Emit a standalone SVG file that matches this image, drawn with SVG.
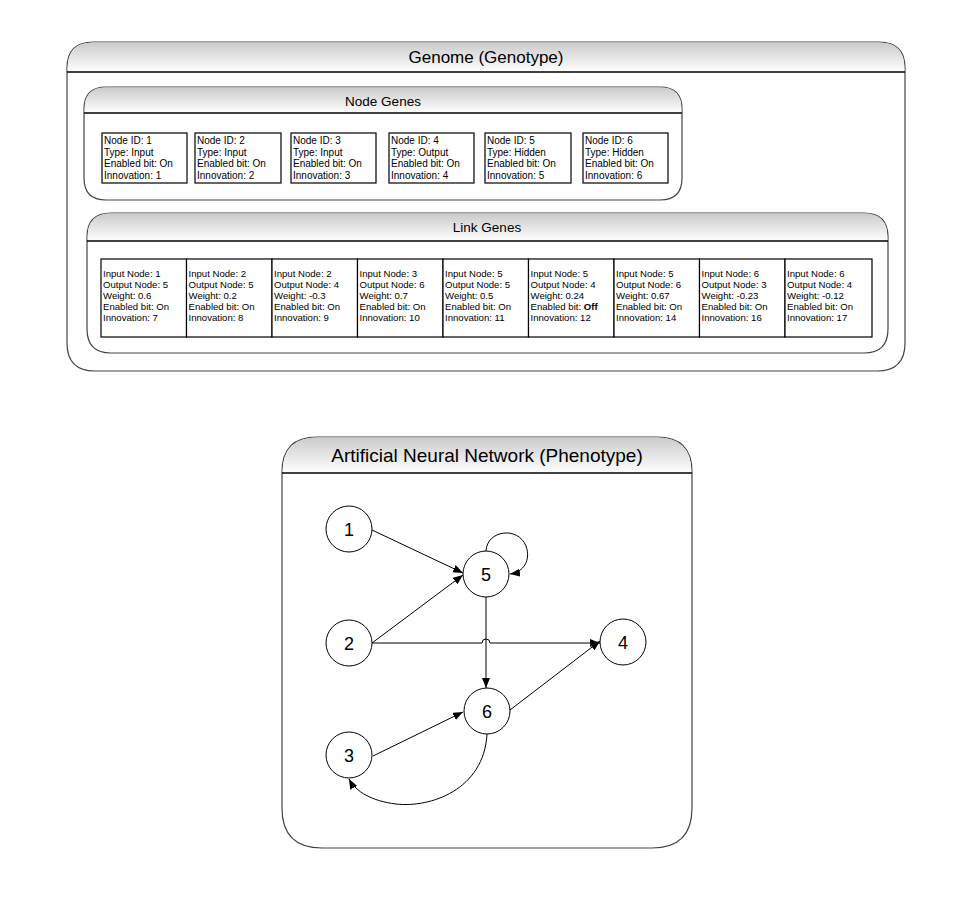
<svg xmlns="http://www.w3.org/2000/svg" width="972" height="900" viewBox="0 0 972 900">
<style>
  text { font-family: "Liberation Sans", Arial, sans-serif; fill: #000; }
  .frame { fill: #fff; stroke: #444; stroke-width: 1.2; }
  .hdr { fill: url(#hg); stroke: none; }
  .hline { stroke: #000; stroke-width: 1.3; fill: none; }
  .title { text-anchor: middle; }
  .gene { fill: #fff; stroke: #000; stroke-width: 1.2; }
  .gt { font-size: 10px; }
  .lt { font-size: 9.6px; }
  .nd { fill: #fff; stroke: #000; stroke-width: 1; }
  .nl { font-size: 18px; text-anchor: middle; }
  .edge { fill: none; stroke: #000; stroke-width: 1; marker-end: url(#ah); }
</style>
<defs>
  <linearGradient id="hg" x1="0" y1="0" x2="0" y2="1">
    <stop offset="0" stop-color="#cbcbcb"/>
    <stop offset="1" stop-color="#ffffff"/>
  </linearGradient>
  <marker id="ah" markerUnits="userSpaceOnUse" markerWidth="11" markerHeight="9" refX="10" refY="4" orient="auto">
    <path d="M0,0 L10,4 L0,8 z" fill="#000"/>
  </marker>
</defs>
<rect width="972" height="900" fill="#fff"/>

<!-- Genome container -->
<g id="genome">
  <path class="frame" d="M67,68 Q67,42 93,42 H879 Q905,42 905,68 V343 Q905,371 877,371 H95 Q67,371 67,343 Z"/>
  <path class="hdr" d="M67.6,72 V68 Q67.6,42.6 93,42.6 H879 Q904.4,42.6 904.4,68 V72 Z"/>
  <line class="hline" x1="67" y1="72" x2="905" y2="72"/>
  <text class="title" x="486" y="63" font-size="17">Genome (Genotype)</text>
</g>

<!-- Node Genes container -->
<g id="node-genes">
  <path class="frame" d="M84,109 Q84,87 106,87 H660 Q682,87 682,109 V178 Q682,200 660,200 H106 Q84,200 84,178 Z"/>
  <path class="hdr" d="M84.6,113 V109 Q84.6,87.6 106,87.6 H660 Q681.4,87.6 681.4,109 V113 Z"/>
  <line class="hline" x1="84" y1="113" x2="682" y2="113"/>
  <text class="title" x="383" y="106" font-size="13.5">Node Genes</text>
</g>

<g id="node-gene-1">
  <rect class="gene" x="102" y="133" width="85" height="50"/>
  <text class="gt" x="104" y="144">Node ID: 1</text>
  <text class="gt" x="104" y="155.5">Type: Input</text>
  <text class="gt" x="104" y="167">Enabled bit: On</text>
  <text class="gt" x="104" y="178.5">Innovation: 1</text>
</g>
<g id="node-gene-2">
  <rect class="gene" x="195" y="133" width="86" height="50"/>
  <text class="gt" x="197" y="144">Node ID: 2</text>
  <text class="gt" x="197" y="155.5">Type: Input</text>
  <text class="gt" x="197" y="167">Enabled bit: On</text>
  <text class="gt" x="197" y="178.5">Innovation: 2</text>
</g>
<g id="node-gene-3">
  <rect class="gene" x="291" y="133" width="85" height="50"/>
  <text class="gt" x="293" y="144">Node ID: 3</text>
  <text class="gt" x="293" y="155.5">Type: Input</text>
  <text class="gt" x="293" y="167">Enabled bit: On</text>
  <text class="gt" x="293" y="178.5">Innovation: 3</text>
</g>
<g id="node-gene-4">
  <rect class="gene" x="389" y="133" width="85" height="50"/>
  <text class="gt" x="391" y="144">Node ID: 4</text>
  <text class="gt" x="391" y="155.5">Type: Output</text>
  <text class="gt" x="391" y="167">Enabled bit: On</text>
  <text class="gt" x="391" y="178.5">Innovation: 4</text>
</g>
<g id="node-gene-5">
  <rect class="gene" x="485" y="133" width="86" height="50"/>
  <text class="gt" x="487" y="144">Node ID: 5</text>
  <text class="gt" x="487" y="155.5">Type: Hidden</text>
  <text class="gt" x="487" y="167">Enabled bit: On</text>
  <text class="gt" x="487" y="178.5">Innovation: 5</text>
</g>
<g id="node-gene-6">
  <rect class="gene" x="583" y="133" width="85" height="50"/>
  <text class="gt" x="585" y="144">Node ID: 6</text>
  <text class="gt" x="585" y="155.5">Type: Hidden</text>
  <text class="gt" x="585" y="167">Enabled bit: On</text>
  <text class="gt" x="585" y="178.5">Innovation: 6</text>
</g>

<!-- Link Genes container -->
<g id="link-genes">
  <path class="frame" d="M87,237 Q87,213 111,213 H864 Q888,213 888,237 V329 Q888,353 864,353 H111 Q87,353 87,329 Z"/>
  <path class="hdr" d="M87.6,241 V237 Q87.6,213.6 111,213.6 H864 Q887.4,213.6 887.4,237 V241 Z"/>
  <line class="hline" x1="87" y1="241" x2="888" y2="241"/>
  <text class="title" x="487" y="232" font-size="13.5">Link Genes</text>
</g>

<g id="link-gene-7">
  <rect class="gene" x="101" y="259" width="85.5" height="78"/>
  <text class="lt" x="103" y="277">Input Node: 1</text>
  <text class="lt" x="103" y="288">Output Node: 5</text>
  <text class="lt" x="103" y="299">Weight: 0.6</text>
  <text class="lt" x="103" y="310">Enabled bit: On</text>
  <text class="lt" x="103" y="321">Innovation: 7</text>
</g>
<g id="link-gene-8">
  <rect class="gene" x="186.5" y="259" width="85.5" height="78"/>
  <text class="lt" x="188.5" y="277">Input Node: 2</text>
  <text class="lt" x="188.5" y="288">Output Node: 5</text>
  <text class="lt" x="188.5" y="299">Weight: 0.2</text>
  <text class="lt" x="188.5" y="310">Enabled bit: On</text>
  <text class="lt" x="188.5" y="321">Innovation: 8</text>
</g>
<g id="link-gene-9">
  <rect class="gene" x="272" y="259" width="85.5" height="78"/>
  <text class="lt" x="274" y="277">Input Node: 2</text>
  <text class="lt" x="274" y="288">Output Node: 4</text>
  <text class="lt" x="274" y="299">Weight: -0.3</text>
  <text class="lt" x="274" y="310">Enabled bit: On</text>
  <text class="lt" x="274" y="321">Innovation: 9</text>
</g>
<g id="link-gene-10">
  <rect class="gene" x="357.5" y="259" width="85.5" height="78"/>
  <text class="lt" x="359.5" y="277">Input Node: 3</text>
  <text class="lt" x="359.5" y="288">Output Node: 6</text>
  <text class="lt" x="359.5" y="299">Weight: 0.7</text>
  <text class="lt" x="359.5" y="310">Enabled bit: On</text>
  <text class="lt" x="359.5" y="321">Innovation: 10</text>
</g>
<g id="link-gene-11">
  <rect class="gene" x="443" y="259" width="85.5" height="78"/>
  <text class="lt" x="445" y="277">Input Node: 5</text>
  <text class="lt" x="445" y="288">Output Node: 5</text>
  <text class="lt" x="445" y="299">Weight: 0.5</text>
  <text class="lt" x="445" y="310">Enabled bit: On</text>
  <text class="lt" x="445" y="321">Innovation: 11</text>
</g>
<g id="link-gene-12">
  <rect class="gene" x="528.5" y="259" width="85.5" height="78"/>
  <text class="lt" x="530.5" y="277">Input Node: 5</text>
  <text class="lt" x="530.5" y="288">Output Node: 4</text>
  <text class="lt" x="530.5" y="299">Weight: 0.24</text>
  <text class="lt" x="530.5" y="310">Enabled bit: <tspan font-weight="bold">Off</tspan></text>
  <text class="lt" x="530.5" y="321">Innovation: 12</text>
</g>
<g id="link-gene-14">
  <rect class="gene" x="614" y="259" width="85.5" height="78"/>
  <text class="lt" x="616" y="277">Input Node: 5</text>
  <text class="lt" x="616" y="288">Output Node: 6</text>
  <text class="lt" x="616" y="299">Weight: 0.67</text>
  <text class="lt" x="616" y="310">Enabled bit: On</text>
  <text class="lt" x="616" y="321">Innovation: 14</text>
</g>
<g id="link-gene-16">
  <rect class="gene" x="699.5" y="259" width="85.5" height="78"/>
  <text class="lt" x="701.5" y="277">Input Node: 6</text>
  <text class="lt" x="701.5" y="288">Output Node: 3</text>
  <text class="lt" x="701.5" y="299">Weight: -0.23</text>
  <text class="lt" x="701.5" y="310">Enabled bit: On</text>
  <text class="lt" x="701.5" y="321">Innovation: 16</text>
</g>
<g id="link-gene-17">
  <rect class="gene" x="785" y="259" width="87" height="78"/>
  <text class="lt" x="787" y="277">Input Node: 6</text>
  <text class="lt" x="787" y="288">Output Node: 4</text>
  <text class="lt" x="787" y="299">Weight: -0.12</text>
  <text class="lt" x="787" y="310">Enabled bit: On</text>
  <text class="lt" x="787" y="321">Innovation: 17</text>
</g>

<!-- ANN container -->
<g id="ann">
  <path class="frame" d="M282,472 Q282,437 317,437 H657 Q692,437 692,472 V808 Q692,848 652,848 H322 Q282,848 282,808 Z"/>
  <path class="hdr" d="M282.6,473 V472 Q282.6,437.6 317,437.6 H657 Q691.4,437.6 691.4,472 V473 Z"/>
  <line class="hline" x1="282" y1="473" x2="692" y2="473"/>
  <text class="title" x="487" y="462" font-size="19">Artificial Neural Network (Phenotype)</text>
</g>

<!-- Connectors -->
<g id="connectors">
  <path class="edge" d="M372,530 L463,573"/>
  <path class="edge" d="M372,643 L463,575"/>
  <path class="edge" d="M372,643 H482 A4,4 0 0 1 490,643 H600"/>
  <path class="edge" d="M486,597 V688"/>
  <path class="edge" d="M510,710 L600,641"/>
  <path class="edge" d="M373,756 L463,712"/>
  <path class="edge" d="M487,734 C484,790 430,808 396,804 C372,801 356,792 349,779"/>
  <path class="edge" d="M486,551 C487,530 518,526 526,546 C531,560 524,572 510,574"/>
</g>

<!-- ANN nodes -->
<g id="n1"><circle class="nd" cx="349" cy="529" r="23"/><text class="nl" x="349" y="535.5">1</text></g>
<g id="n2"><circle class="nd" cx="349" cy="643" r="23"/><text class="nl" x="349" y="649.5">2</text></g>
<g id="n3"><circle class="nd" cx="349" cy="755" r="23"/><text class="nl" x="349" y="761.5">3</text></g>
<g id="n4"><circle class="nd" cx="623" cy="642" r="23"/><text class="nl" x="623" y="648.5">4</text></g>
<g id="n5"><circle class="nd" cx="486" cy="574" r="23"/><text class="nl" x="486" y="580.5">5</text></g>
<g id="n6"><circle class="nd" cx="487" cy="711" r="23"/><text class="nl" x="487" y="717.5">6</text></g>
</svg>
